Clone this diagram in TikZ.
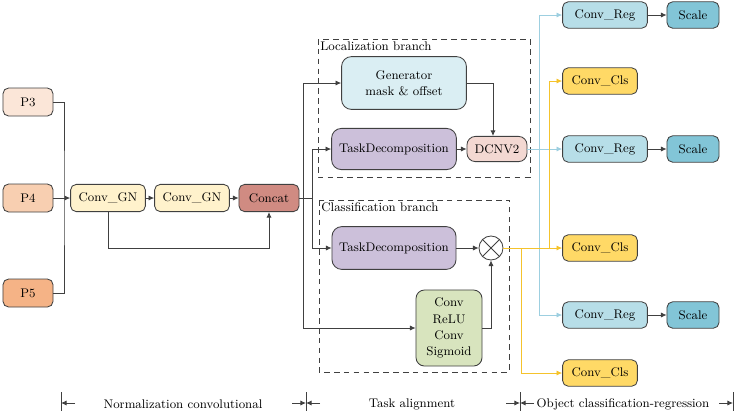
\documentclass[tikz,border=0pt]{standalone}
\usepackage{fontspec}
\usepackage{xcolor}
\usetikzlibrary{positioning, arrows.meta, shapes.geometric, calc}
\definecolor{LineA}{HTML}{404040}
\definecolor{PeachA}{HTML}{FBE6D8}
\definecolor{PeachB}{HTML}{F8CFB1}
\definecolor{PeachC}{HTML}{F5B386}
\definecolor{CreamA}{HTML}{FFF2CC}
\definecolor{RoseA}{HTML}{D08B82}
\definecolor{SkyA}{HTML}{DAEEF3}
\definecolor{LilacA}{HTML}{CCC0DA}
\definecolor{PinkA}{HTML}{F3D8D2}
\definecolor{SageA}{HTML}{D8E4BE}
\definecolor{TealA}{HTML}{B7DEE8}
\definecolor{TealB}{HTML}{82C5D7}
\definecolor{GoldA}{HTML}{FFD966}
\definecolor{RegLine}{HTML}{9DCFE0}
\definecolor{ClsLine}{HTML}{F5C32C}
\newcommand{\diagfont}{\rmfamily\fontsize{8.9}{11.5}\selectfont}
\tikzset{
  box/.style={draw=LineA, rounded corners=4pt, align=center,
              font=\diagfont, inner sep=1pt, line width=0.6pt},
  pin/.style={box, minimum width=1.25cm, minimum height=0.7cm},
  gn/.style={box, fill=CreamA, minimum width=1.87cm, minimum height=0.68cm},
  regbox/.style={box, fill=TealA, minimum width=2.12cm, minimum height=0.66cm},
  scbox/.style={box, fill=TealB, minimum width=1.3cm, minimum height=0.66cm},
  clsbox/.style={box, fill=GoldA, minimum width=1.87cm, minimum height=0.66cm},
  branch/.style={draw=LineA, dash pattern=on 4pt off 3pt, line width=0.7pt},
  blbl/.style={font=\diagfont, inner sep=1.5pt, anchor=north west},
  arr/.style={-{Latex[length=1.4mm,width=1.3mm]}, draw=LineA, line width=0.6pt},
  line/.style={draw=LineA, line width=0.6pt},
  barr/.style={-{Latex[length=1.4mm,width=1.3mm]}, draw=RegLine, line width=0.6pt},
  yarr/.style={-{Latex[length=1.4mm,width=1.3mm]}, draw=ClsLine, line width=0.6pt},
  glbl/.style={font=\diagfont},
}
\begin{document}
\begin{tikzpicture}[x=0.025cm,y=-0.025cm]
  \useasboundingbox (0,0) rectangle (738,417);
  % inputs and neck
  \node[pin, fill=PeachA] (p3) at (28,102) {P3};
  \node[pin, fill=PeachB] (p4) at (28,198) {P4};
  \node[pin, fill=PeachC] (p5) at (28,293) {P5};
  \node[gn] (gn1) at (108,198) {Conv\_GN};
  \node[gn] (gn2) at (192,198) {Conv\_GN};
  \node[box, fill=RoseA, minimum width=1.5cm, minimum height=0.68cm] (concat) at (269,198) {Concat};
  \coordinate (bus) at (64,198);
  \coordinate (skip) at (108,248);
  \draw[line] (p3.east) -| (bus) |- (p5.east);
  \draw[arr] (p4) -- (gn1);
  \draw[arr] (gn1) -- (gn2);
  \draw[arr] (gn2) -- (concat);
  \draw[arr] (gn1.south) -- (skip) -| (concat.south);

  % task alignment
  \draw[branch] (318,39) rectangle (530,177);
  \node[blbl] (loclbl) at (318,39) {Localization branch};
  \draw[branch] (319,200) rectangle (509,372);
  \node[blbl] (clslbl) at (319,200) {Classification branch};
  \node[box, fill=SkyA, rounded corners=7pt, minimum width=3.12cm, minimum height=1.32cm] (gen) at (404,83) {Generator\\mask \& offset};
  \node[box, fill=LilacA, rounded corners=7pt, minimum width=3.12cm, minimum height=1.03cm] (tdl) at (394,149) {TaskDecomposition};
  \node[box, fill=PinkA, rounded corners=6pt, minimum width=1.5cm, minimum height=0.63cm] (dcn) at (497,149) {DCNV2};
  \node[box, fill=LilacA, rounded corners=7pt, minimum width=3.1cm, minimum height=1.07cm] (tdc) at (394,248) {TaskDecomposition};
  \node[draw=LineA, circle, line width=0.6pt, minimum size=0.6cm, inner sep=0pt] (mul) at (491,248) {};
  \draw[line] (mul.north west) -- (mul.south east) (mul.north east) -- (mul.south west);
  \node[box, fill=SageA, rounded corners=6pt, minimum width=1.65cm, minimum height=1.9cm] (crc) at (449,328) {Conv\\ReLU\\Conv\\Sigmoid};
  \coordinate (fanA) at (303,198);
  \coordinate (fanB) at (312,198);
  \draw[line] (concat.east) -- (fanB);
  \draw[arr] (fanA) |- (gen.west);
  \draw[arr] (fanA) |- (crc.west);
  \draw[arr] (fanB) |- (tdl.west);
  \draw[arr] (fanB) |- (tdc.west);
  \draw[arr] (gen.east) -| ([xshift=-0.1cm]dcn.north);
  \draw[arr] (tdl) -- (dcn);
  \draw[arr] (tdc) -- (mul);
  \draw[arr] (crc.east) -| (mul.south);

  % heads
  \node[regbox] (reg1) at (605,15) {Conv\_Reg};
  \node[scbox] (sc1) at (693,15) {Scale};
  \node[clsbox] (cls1) at (600,81) {Conv\_Cls};
  \node[regbox] (reg2) at (605,149) {Conv\_Reg};
  \node[scbox] (sc2) at (693,149) {Scale};
  \node[clsbox] (cls2) at (600,248) {Conv\_Cls};
  \node[regbox] (reg3) at (605,315) {Conv\_Reg};
  \node[scbox] (sc3) at (693,315) {Scale};
  \node[clsbox] (cls3) at (600,373) {Conv\_Cls};
  \coordinate (regbus) at (539,149);
  \coordinate (clsbusA) at (549,248);
  \coordinate (clsbusB) at (521,248);
  \draw[barr] (dcn) -- (reg2);
  \draw[barr] (regbus) |- (reg1.west);
  \draw[barr] (regbus) |- (reg3.west);
  \draw[yarr] (mul) -- (cls2);
  \draw[yarr] (clsbusA) |- (cls1.west);
  \draw[yarr] (clsbusB) |- (cls3.west);
  \foreach \r in {1,2,3} \draw[arr] (reg\r) -- (sc\r);

  % stage legend
  \foreach \t in {61,306,520,733} \draw[line] (\t,392) -- (\t,411);
  \draw[arr] (75,403) -- (61,403);
  \foreach \t in {306,520} {
    \draw[arr] (\t-14,403) -- (\t,403);
    \draw[arr] (\t+14,403) -- (\t,403);
  }
  \draw[arr] (719,403) -- (733,403);
  \node[glbl] (stage1) at (183,404) {Normalization convolutional};
  \node[glbl] (stage2) at (412,404) {Task alignment};
  \node[glbl] (stage3) at (623,404) {Object classification-regression};
\end{tikzpicture}
\end{document}
